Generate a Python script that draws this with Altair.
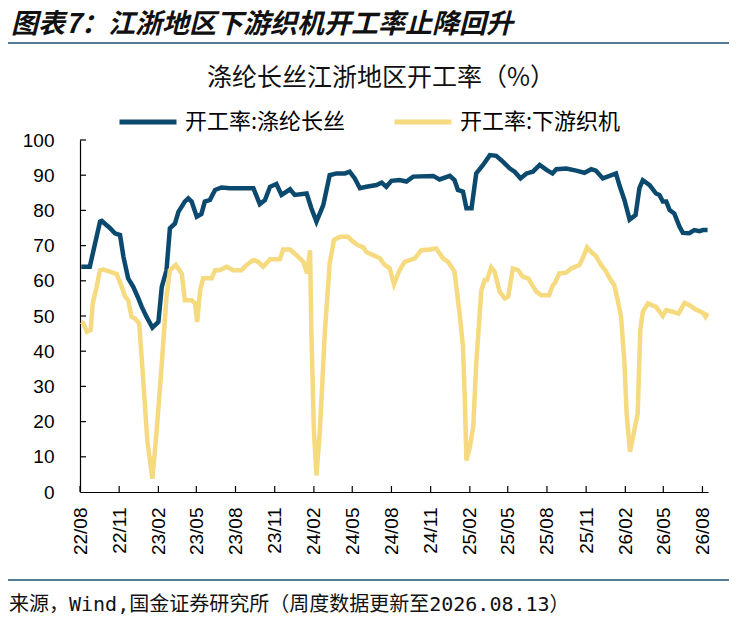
import pandas as pd
import altair as alt

# -----------------------------
# 1. Data (weekly series, key points)
# -----------------------------
poy_dates = [
    "2022-08-04", "2022-08-24", "2022-09-17", "2022-09-21", "2022-10-10", "2022-10-22",
    "2022-11-03", "2022-11-11", "2022-11-22", "2022-12-04", "2022-12-16", "2022-12-24",
    "2023-01-04", "2023-01-18", "2023-02-01", "2023-02-09", "2023-02-20", "2023-02-28",
    "2023-03-12", "2023-03-20", "2023-04-04", "2023-04-12", "2023-04-20", "2023-05-02",
    "2023-05-13", "2023-05-21", "2023-06-02", "2023-06-14", "2023-06-29", "2023-07-19",
    "2023-08-11", "2023-08-19", "2023-09-12", "2023-09-27", "2023-10-09", "2023-10-21",
    "2023-11-05", "2023-11-17", "2023-12-07", "2023-12-18", "2024-01-15", "2024-01-26",
    "2024-02-07", "2024-02-23", "2024-03-09", "2024-03-25", "2024-04-14", "2024-04-25",
    "2024-05-07", "2024-05-19", "2024-06-03", "2024-06-27", "2024-07-09", "2024-07-20",
    "2024-08-01", "2024-08-20", "2024-09-05", "2024-09-21", "2024-11-07", "2024-11-22",
    "2024-12-16", "2024-12-27", "2025-01-04", "2025-01-16", "2025-01-24", "2025-02-05",
    "2025-02-16", "2025-03-04", "2025-03-20", "2025-04-04", "2025-04-20", "2025-05-06",
    "2025-05-17", "2025-05-31", "2025-06-14", "2025-06-29", "2025-07-15", "2025-07-31",
    "2025-08-14", "2025-08-23", "2025-09-15", "2025-10-09", "2025-10-28", "2025-11-13",
    "2025-11-24", "2025-12-10", "2025-12-26", "2026-01-10", "2026-01-18", "2026-01-30",
    "2026-02-11", "2026-02-25", "2026-03-06", "2026-03-14", "2026-03-30", "2026-04-14",
    "2026-04-22", "2026-04-30", "2026-05-08", "2026-05-16", "2026-05-27", "2026-06-08",
    "2026-06-16", "2026-07-01", "2026-07-13", "2026-07-25", "2026-08-02", "2026-08-13",
]
poy_values = [
    64.0, 64.0, 76.8, 77.0, 75.0, 73.5,
    73.0, 66.8, 60.7, 58.3, 55.0, 52.6,
    49.8, 46.7, 48.3, 58.3, 63.0, 74.9,
    76.3, 79.6, 82.5, 83.4, 82.5, 78.2,
    79.0, 82.5, 83.0, 85.8, 86.5, 86.3,
    86.3, 86.3, 86.3, 81.8, 82.9, 86.7,
    87.5, 84.4, 86.0, 84.4, 84.8, 80.6,
    76.8, 81.5, 90.0, 90.5, 90.5, 91.0,
    89.1, 86.3, 86.7, 87.2, 87.9, 86.7,
    88.4, 88.6, 88.2, 89.6, 89.8, 88.8,
    89.8, 88.6, 85.8, 85.3, 80.6, 80.6,
    90.5, 92.9, 95.7, 95.5, 93.8, 91.9,
    91.0, 89.1, 90.5, 91.0, 92.9, 91.5,
    90.5, 91.7, 91.9, 91.3, 90.7, 91.7,
    91.3, 89.1, 89.8, 90.5, 87.2, 82.9,
    77.4, 78.7, 86.3, 88.6, 87.2, 84.8,
    84.4, 82.5, 82.5, 80.1, 79.1, 75.4,
    73.6, 73.5, 74.4, 74.1, 74.4, 74.4,
]

loom_dates = [
    "2022-08-04", "2022-08-09", "2022-08-17", "2022-08-26", "2022-08-31", "2022-09-09",
    "2022-09-17", "2022-09-25", "2022-10-10", "2022-10-26", "2022-11-07", "2022-11-15",
    "2022-11-22", "2022-11-30", "2022-12-08", "2022-12-18", "2022-12-28", "2023-01-06",
    "2023-01-18", "2023-01-28", "2023-02-09", "2023-02-20", "2023-02-28", "2023-03-14",
    "2023-03-28", "2023-04-04", "2023-04-20", "2023-04-28", "2023-05-03", "2023-05-10",
    "2023-05-17", "2023-06-06", "2023-06-14", "2023-06-25", "2023-07-11", "2023-07-27",
    "2023-08-11", "2023-08-15", "2023-08-27", "2023-09-12", "2023-09-23", "2023-10-05",
    "2023-10-21", "2023-11-13", "2023-11-21", "2023-12-07", "2023-12-22", "2024-01-07",
    "2024-01-16", "2024-01-23", "2024-01-26", "2024-02-01", "2024-02-07", "2024-02-15",
    "2024-02-27", "2024-03-09", "2024-03-19", "2024-04-02", "2024-04-21", "2024-05-03",
    "2024-05-15", "2024-05-27", "2024-06-03", "2024-06-19", "2024-07-05", "2024-07-16",
    "2024-07-28", "2024-08-07", "2024-08-17", "2024-08-20", "2024-09-01", "2024-09-25",
    "2024-10-10", "2024-10-30", "2024-11-14", "2024-11-30", "2024-12-12", "2024-12-27",
    "2025-01-08", "2025-01-16", "2025-01-20", "2025-01-24", "2025-02-01", "2025-02-09",
    "2025-02-16", "2025-02-28", "2025-03-08", "2025-03-13", "2025-03-23", "2025-03-31",
    "2025-04-12", "2025-04-24", "2025-05-02", "2025-05-13", "2025-05-25", "2025-06-06",
    "2025-06-18", "2025-07-07", "2025-07-19", "2025-08-06", "2025-08-15", "2025-08-19",
    "2025-08-30", "2025-09-15", "2025-09-27", "2025-10-16", "2025-10-24", "2025-11-03",
    "2025-11-13", "2025-11-24", "2025-12-06", "2025-12-18", "2025-12-26", "2026-01-06",
    "2026-01-14", "2026-01-22", "2026-01-30", "2026-02-04", "2026-02-12", "2026-02-22",
    "2026-03-02", "2026-03-08", "2026-03-14", "2026-03-26", "2026-04-14", "2026-04-30",
    "2026-05-08", "2026-05-23", "2026-06-06", "2026-06-20", "2026-07-01", "2026-07-17",
    "2026-08-02", "2026-08-08", "2026-08-13",
]
loom_values = [
    48.3, 47.9, 45.5, 46.0, 53.6, 58.3,
    63.0, 63.2, 62.6, 61.9, 58.3, 55.5,
    54.5, 49.8, 49.3, 47.9, 30.8, 14.7,
    3.8, 17.5, 36.5, 55.5, 63.0, 64.5,
    62.0, 54.5, 54.5, 53.6, 48.3, 57.3,
    60.7, 60.7, 63.0, 63.0, 64.0, 63.0,
    63.0, 63.0, 64.5, 65.9, 65.4, 64.0,
    66.1, 66.1, 68.9, 68.9, 67.3, 65.4,
    62.1, 68.7, 46.0, 17.5, 4.7, 17.5,
    46.0, 64.9, 71.6, 72.5, 72.5, 71.1,
    70.1, 69.5, 68.2, 67.3, 66.4, 64.5,
    63.5, 59.0, 62.1, 63.0, 65.4, 66.4,
    68.7, 68.9, 69.2, 66.4, 65.4, 62.6,
    50.7, 41.2, 27.0, 9.0, 12.8, 18.5,
    36.5, 57.3, 60.2, 60.2, 63.8, 62.6,
    56.9, 55.0, 55.5, 63.5, 63.0, 61.1,
    60.7, 56.9, 55.9, 55.9, 58.8, 59.2,
    62.1, 62.3, 63.5, 64.5, 66.4, 69.5,
    68.2, 67.0, 64.5, 62.6, 60.7, 58.8,
    54.5, 49.8, 36.5, 22.3, 11.4, 17.5,
    22.3, 46.0, 51.2, 53.6, 52.6, 50.0,
    51.7, 51.2, 50.7, 53.7, 53.1, 51.8,
    50.9, 49.8, 50.9,
]

series_names = ["开工率:涤纶长丝", "开工率:下游织机"]
series_colors = ["#0b4a6e", "#f5da7f"]

y_ticks = [10, 20, 30, 40, 50, 60, 70, 80, 90, 100]
x_tick_dates = [
    "2022-08-01", "2022-11-01", "2023-02-01", "2023-05-01", "2023-08-01", "2023-11-01",
    "2024-02-01", "2024-05-01", "2024-08-01", "2024-11-01", "2025-02-01", "2025-05-01",
    "2025-08-01", "2025-11-01", "2026-02-01", "2026-05-01", "2026-08-01",
]

header = "图表7：江浙地区下游织机开工率止降回升"
chart_title = "涤纶长丝江浙地区开工率（%）"
source_note = "来源，Wind,国金证券研究所（周度数据更新至2026.08.13）"

# -----------------------------
# 2. Build long table
# -----------------------------
df = pd.concat([
    pd.DataFrame({"date": poy_dates, "rate": poy_values, "series": series_names[0]}),
    pd.DataFrame({"date": loom_dates, "rate": loom_values, "series": series_names[1]}),
], ignore_index=True)

W, H = 628, 352
CJK = "Noto Sans CJK SC"
LAT = "Liberation Sans"

x_scale = alt.Scale(domain=["2022-08-01", "2026-08-14"])
y_scale = alt.Scale(domain=[0, 100], nice=False)


def dt(s):
    y, m, d = s.split("-")
    return alt.DateTime(year=int(y), month=int(m), date=int(d))


# one axis object per channel, shared by every layer so they merge cleanly
x_axis = alt.Axis(values=[dt(s) for s in x_tick_dates], format="%y/%m",
                  labelAngle=270, labelFont=LAT, labelFontSize=19,
                  labelColor="#000", labelPadding=15, ticks=False,
                  domainColor="#000", domainWidth=1.2, grid=False,
                  labelOverlap=False, labelFlush=False, title=None)
y_axis = alt.Axis(values=list(range(0, 101, 10)), labelFont=LAT,
                  labelFontSize=19, labelColor="#000", labelPadding=26,
                  ticks=False, domainColor="#000", domainWidth=1.2,
                  grid=False, labelOverlap=False, title=None)

# -----------------------------
# 3. Lines + axes
# -----------------------------
lines = alt.Chart(df).mark_line(strokeWidth=4.5, clip=False).encode(
    x=alt.X("date:T", scale=x_scale, axis=x_axis),
    y=alt.Y("rate:Q", scale=y_scale, axis=y_axis),
    color=alt.Color("series:N", scale=alt.Scale(domain=series_names, range=series_colors),
                    legend=alt.Legend(title=None, orient="none", legendX=37, legendY=-49,
                                      direction="horizontal", symbolType="stroke",
                                      symbolSize=3249, symbolStrokeWidth=5,
                                      labelFont=CJK, labelFontSize=22, labelColor="#000",
                                      labelOffset=6, columnPadding=38, labelLimit=300,
                                      padding=0)),
)

# inward tick marks
x_ticks = alt.Chart(pd.DataFrame({"d": x_tick_dates})).mark_rule(color="#000", strokeWidth=1.2).encode(
    x=alt.X("d:T", scale=x_scale, axis=x_axis), y=alt.value(H), y2=alt.value(H - 6)
)
y_tick_marks = alt.Chart(pd.DataFrame({"v": y_ticks})).mark_rule(color="#000", strokeWidth=1.2).encode(
    y=alt.Y("v:Q", scale=y_scale, axis=y_axis), x=alt.value(0), x2=alt.value(6)
)

# -----------------------------
# 4. Header, title, footer
# -----------------------------
def text_layer(txt, x, y, size, weight="normal", italic=False, align="left", font=CJK):
    return alt.Chart(pd.DataFrame({"t": [txt]})).mark_text(
        align=align, baseline="middle", font=font, fontSize=size, fontWeight=weight,
        fontStyle="italic" if italic else "normal", color="#111", limit=0,
    ).encode(text="t:N", x=alt.value(x), y=alt.value(y))


def hline(y):
    return alt.Chart(pd.DataFrame({"k": [0]})).mark_rule(color="#1b4f72", strokeWidth=1.5).encode(
        x=alt.value(-80), x2=alt.value(660), y=alt.value(y)
    )


header_txt = text_layer(header, -69, -115, 27, weight="bold", italic=True)
title_txt = text_layer(chart_title, 301, -62, 25, align="center")
footer_txt = text_layer(source_note, -71, 465, 20, font="DejaVu Sans Mono, " + CJK)

chart = alt.layer(
    lines, x_ticks, y_tick_marks, header_txt, hline(-97), title_txt, hline(440), footer_txt
).properties(
    width=W, height=H,
    autosize=alt.AutoSizeParams(type="none"),
    padding={"left": 72, "top": 132, "right": 21, "bottom": 125},
).configure_view(stroke=None)

chart.save("out.html", embed_options={"renderer": "svg", "actions": False})
print("saved")
